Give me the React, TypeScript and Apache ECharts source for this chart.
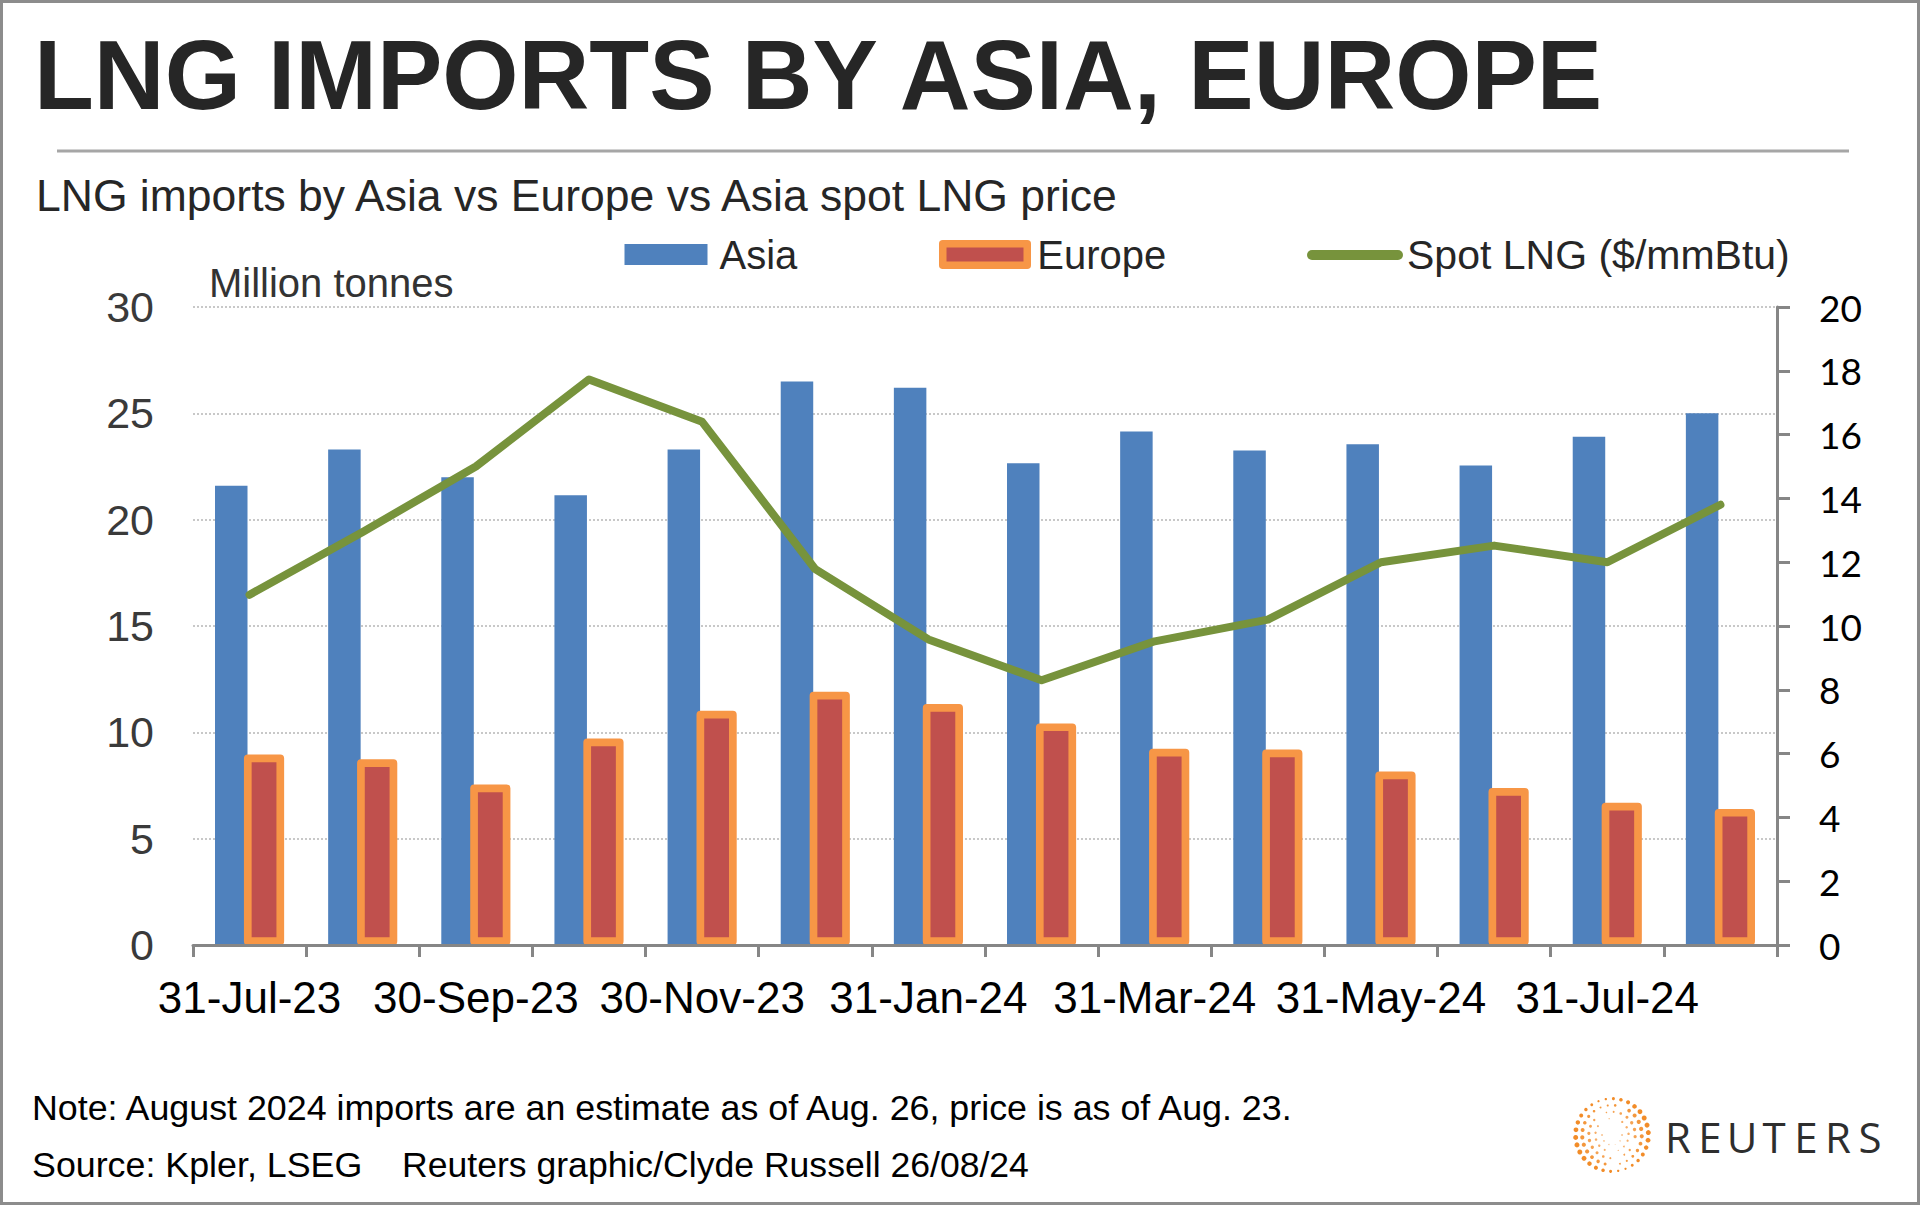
import React, { useEffect, useRef } from 'react';
import * as echarts from 'echarts';

// ---- data ----
const categories = [
  '31-Jul-23', '31-Aug-23', '30-Sep-23', '31-Oct-23', '30-Nov-23', '31-Dec-23', '31-Jan-24',
  '29-Feb-24', '31-Mar-24', '30-Apr-24', '31-May-24', '30-Jun-24', '31-Jul-24', '31-Aug-24',
];
const asiaImports = [21.6, 23.3, 22.0, 21.15, 23.3, 26.5, 26.2, 22.65, 24.15, 23.25, 23.55, 22.55, 23.9, 25.0];
const europeImports = [8.96, 8.73, 7.55, 9.71, 11.01, 11.91, 11.33, 10.42, 9.23, 9.19, 8.16, 7.38, 6.69, 6.4];
const spotLngPrice = [10.98, 12.95, 15.0, 17.73, 16.4, 11.78, 9.58, 8.3, 9.52, 10.2, 12.0, 12.52, 12.0, 13.8];
const seriesNames = ['Asia', 'Europe', 'Spot LNG ($/mmBtu)'];

const titleText = 'LNG IMPORTS BY ASIA, EUROPE';
const subtitleText = 'LNG imports by Asia vs Europe vs Asia spot LNG price';
const leftAxisName = 'Million tonnes';
const noteText = 'Note: August 2024 imports are an estimate as of Aug. 26, price is as of Aug. 23.';
const sourceText = 'Source: Kpler, LSEG';
const creditText = 'Reuters graphic/Clyde Russell 26/08/24';
const logoText = 'REUTERS';

const FONT = '"Liberation Sans", Arial, Helvetica, sans-serif';

function logoElements(): any[] {
  const els: any[] = [];
  const cx = 1612;
  const cy = 1135;
  for (let ring = 0; ring < 5; ring++) {
    const R = 10 + ring * 6.6;
    const n = 10 + ring * 5;
    for (let k = 0; k < n; k++) {
      const t = (k / n) * Math.PI * 2 + ring * 0.35;
      const side = Math.abs(Math.cos(t + 0.3));
      const r = (0.85 + ring * 0.42) * (0.4 + 0.6 * side);
      els.push({
        type: 'circle',
        silent: true,
        shape: { cx: cx + R * Math.cos(t), cy: cy + R * Math.sin(t), r },
        style: { fill: '#F28C28', opacity: 0.6 + ring * 0.1 },
      });
    }
  }
  const letters = logoText.split('');
  letters.forEach((ch, i) => {
    els.push({
      type: 'text',
      silent: true,
      x: 1678 + i * 32,
      y: 1136,
      style: {
        text: ch,
        fontSize: 42,
        fontFamily: '"Open Sans", "Noto Sans", sans-serif',
        fill: '#2e2e2e',
        align: 'center',
        verticalAlign: 'middle',
      },
    });
  });
  return els;
}

function textEl(text: string, x: number, y: number, size: number, opts: any = {}) {
  return {
    type: 'text',
    silent: true,
    x,
    y,
    style: {
      text,
      fontSize: size,
      fontFamily: FONT,
      fill: '#262626',
      align: 'left',
      verticalAlign: 'middle',
      ...opts,
    },
  };
}

export default function App() {
  const ref = useRef<HTMLDivElement>(null);

  useEffect(() => {
    if (!ref.current) return;
    const chart = echarts.init(ref.current, null, { renderer: 'svg' });
    const legendText = { fontSize: 40, fontFamily: FONT, color: '#262626', lineHeight: 40 };
    const option: any = {
      animation: false,
      backgroundColor: '#ffffff',
      grid: { left: 193, right: 143, top: 307, bottom: 260, containLabel: false },
      legend: [
        {
          data: [seriesNames[0]], left: 624.5, top: 234.5, padding: 0, itemWidth: 83, itemHeight: 21,
          icon: 'rect', selectedMode: false,
          textStyle: { ...legendText, padding: [0, 0, 0, 7] },
        },
        {
          data: [seriesNames[1]], left: 939, top: 234.5, padding: 0, itemWidth: 84.5, itemHeight: 21.5,
          icon: 'rect', selectedMode: false,
          itemStyle: { color: '#C0504D', borderColor: '#F79646', borderWidth: 7.5 },
          textStyle: { ...legendText, padding: [0, 0, 0, 5] },
        },
        {
          data: [seriesNames[2]], left: 1307, top: 234.5, padding: 0, itemWidth: 86, itemHeight: 21,
          selectedMode: false,
          itemStyle: { color: 'rgba(0,0,0,0)', borderWidth: 0 },
          lineStyle: { color: '#77933C', width: 10, cap: 'round' },
          textStyle: { ...legendText, fontSize: 41, padding: [0, 0, 0, 4] },
        },
      ],
      xAxis: {
        type: 'category',
        data: categories,
        boundaryGap: true,
        z: 3,
        axisLine: { lineStyle: { color: '#868686', width: 3 } },
        axisTick: { show: true, interval: 0, length: 12, lineStyle: { color: '#868686', width: 3 } },
        axisLabel: { interval: 1, margin: 30, fontSize: 44, color: '#000000', fontFamily: FONT },
      },
      yAxis: [
        {
          type: 'value', min: 0, max: 30, interval: 5, position: 'left',
          axisLine: { show: false }, axisTick: { show: false },
          axisLabel: { margin: 39, fontSize: 43, color: '#3a3a3a', fontFamily: FONT },
          splitLine: { show: true, lineStyle: { color: '#c8c8c8', width: 2, type: [2, 2] } },
        },
        {
          type: 'value', min: 0, max: 20, interval: 2, position: 'right',
          axisLine: { show: true, lineStyle: { color: '#868686', width: 3 } },
          axisTick: { show: true, length: 13, lineStyle: { color: '#868686', width: 3 } },
          axisLabel: {
            margin: 42, fontSize: 37, color: '#000000', fontFamily: 'Lato, "Open Sans", sans-serif',
            padding: [0, 0, 5, 0],
          },
          splitLine: { show: false },
        },
      ],
      series: [
        {
          name: seriesNames[0], type: 'bar', data: asiaImports, barWidth: 32.5, barGap: '-11%',
          itemStyle: { color: '#4F81BD' },
        },
        {
          name: seriesNames[1], type: 'bar', data: europeImports, barWidth: 40.2, barGap: '-11%',
          itemStyle: { color: '#C0504D', borderColor: '#F79646', borderWidth: 7.7, borderJoin: 'round' },
        },
        {
          name: seriesNames[2], type: 'line', yAxisIndex: 1, data: spotLngPrice, symbol: 'none',
          itemStyle: { color: '#77933C' },
          lineStyle: { color: '#77933C', width: 8, cap: 'round', join: 'round' },
        },
      ],
      graphic: [
        textEl(titleText, 34, 75, 98, { fontWeight: 'bold' }),
        {
          type: 'line', silent: true,
          shape: { x1: 57, y1: 151, x2: 1849, y2: 151 },
          style: { stroke: '#a6a6a6', lineWidth: 3 },
        },
        textEl(subtitleText, 36, 195.5, 44.5),
        textEl(leftAxisName, 209, 282.5, 40, { fill: '#333333' }),
        textEl(noteText, 32, 1107.5, 35.8, { fill: '#000000' }),
        textEl(sourceText, 32, 1165, 35.8, { fill: '#000000' }),
        textEl(creditText, 402, 1165, 35.6, { fill: '#000000' }),
        ...logoElements(),
        {
          type: 'rect', silent: true, z: 100,
          shape: { x: 1.5, y: 1.5, width: 1917, height: 1202 },
          style: { fill: 'none', stroke: '#8c8c8c', lineWidth: 3 },
        },
      ],
    };
    chart.setOption(option);
    return () => chart.dispose();
  }, []);

  return (
    <div
      ref={ref}
      style={{ position: 'absolute', left: 0, top: 0, width: 1920, height: 1205, background: '#fff' }}
    />
  );
}
